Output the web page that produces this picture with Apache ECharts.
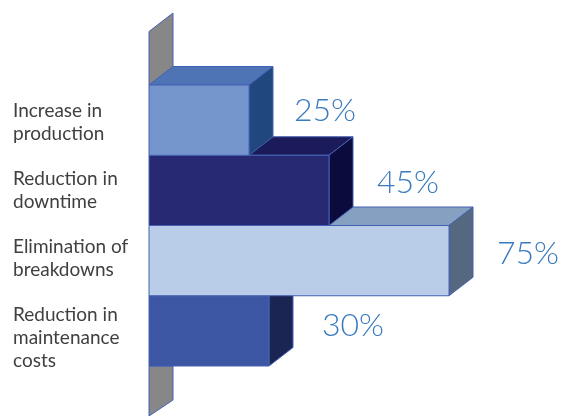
<!DOCTYPE html>
<html><head><meta charset="utf-8">
<style>html,body{margin:0;padding:0;background:#fff}#c{width:563px;height:416px}</style>
<script src="https://cdn.jsdelivr.net/npm/echarts@6/dist/echarts.min.js"></script>
</head><body><div id="c"></div>
<script>
const categories = ['Increase in\nproduction','Reduction in\ndowntime','Elimination of\nbreakdowns','Reduction in\nmaintenance\ncosts'];
const values = [25,45,75,30];
const fronts = ['#7596cc','#272a73','#b9cce8','#3c56a4'];
const tops = ['#4f74b5','#1c1b59','#85a0c0','#2f4585'];
const sides = ['#20487f','#0b0b3d','#56687f','#1b2553'];
const labelShift = [2,0,-2,7];
const pctShiftX = [45,48,48,53];
const pctShiftY = [-9,-8,-7,-5];
const DX = 24, DY = -18.5, EDGE = '#4460b4';
const chart = echarts.init(document.getElementById('c'), null, {renderer:'canvas'});
function poly(points, fill, z2){
  return {type:'polygon', z2, shape:{points}, style:{fill, stroke:EDGE, lineWidth:1, lineJoin:'round'}};
}
function renderWall(params, api){
  const i = api.value(1);
  const x = api.coord([0,i])[0], yc = api.coord([0,i])[1], h = api.size([0,1])[1];
  const y0 = i === 0 ? yc - h/2 : yc + h/2;
  const pts = i === 0
    ? [[x,y0],[x,y0-53.5],[x+DX,y0-72],[x+DX,y0]]
    : [[x,y0],[x,y0+50],[x+DX,y0+34],[x+DX,y0]];
  return {type:'group',children:[poly(pts,'#878787',1)]};
}
function renderBar(params, api){
  const i = params.dataIndex, v = api.value(0), c = api.coord([v,i]), c0 = api.coord([0,i]);
  const h = api.size([0,1])[1], x0 = c0[0], x1 = c[0], yt = c[1]-h/2, yb = c[1]+h/2;
  const z = 10 + (categories.length - i) * 5;
  return {type:'group',children:[
    poly([[x0,yt],[x0+DX,yt+DY],[x1+DX,yt+DY],[x1,yt]], tops[i], z),
    poly([[x1,yt],[x1+DX,yt+DY],[x1+DX,yb+DY],[x1,yb]], sides[i], z),
    poly([[x0,yt],[x1,yt],[x1,yb],[x0,yb]], fronts[i], z+1),
    {type:'text', z2:100, style:{x:x1+pctShiftX[i], y:c[1]+pctShiftY[i], text:v+'%', fill:'#3a7bbf',
      font:'300 32px Lato, "Open Sans", sans-serif', textAlign:'left', textVerticalAlign:'middle'}},
    {type:'text', z2:100, style:{x:13, y:c[1]+labelShift[i], text:categories[i], fill:'#404040',
      font:'19px Lato, "Open Sans", sans-serif', lineHeight:23, textAlign:'left', textVerticalAlign:'middle'}}
  ]};
}
chart.setOption({
  animation:false,
  grid:{left:149,right:0,top:85,height:281,containLabel:false},
  xAxis:{type:'value',min:0,max:103.5,show:false},
  yAxis:{type:'category',inverse:true,data:categories,show:false},
  series:[
    {type:'custom',z:1,renderItem:renderWall,clip:false,silent:true,encode:{x:0,y:1},data:[[0,0],[0,3]]},
    {type:'custom',z:2,renderItem:renderBar,clip:false,silent:true,encode:{x:0,y:1},data:values.map((v,i)=>[v,i])}
  ]
});
</script></body></html>
